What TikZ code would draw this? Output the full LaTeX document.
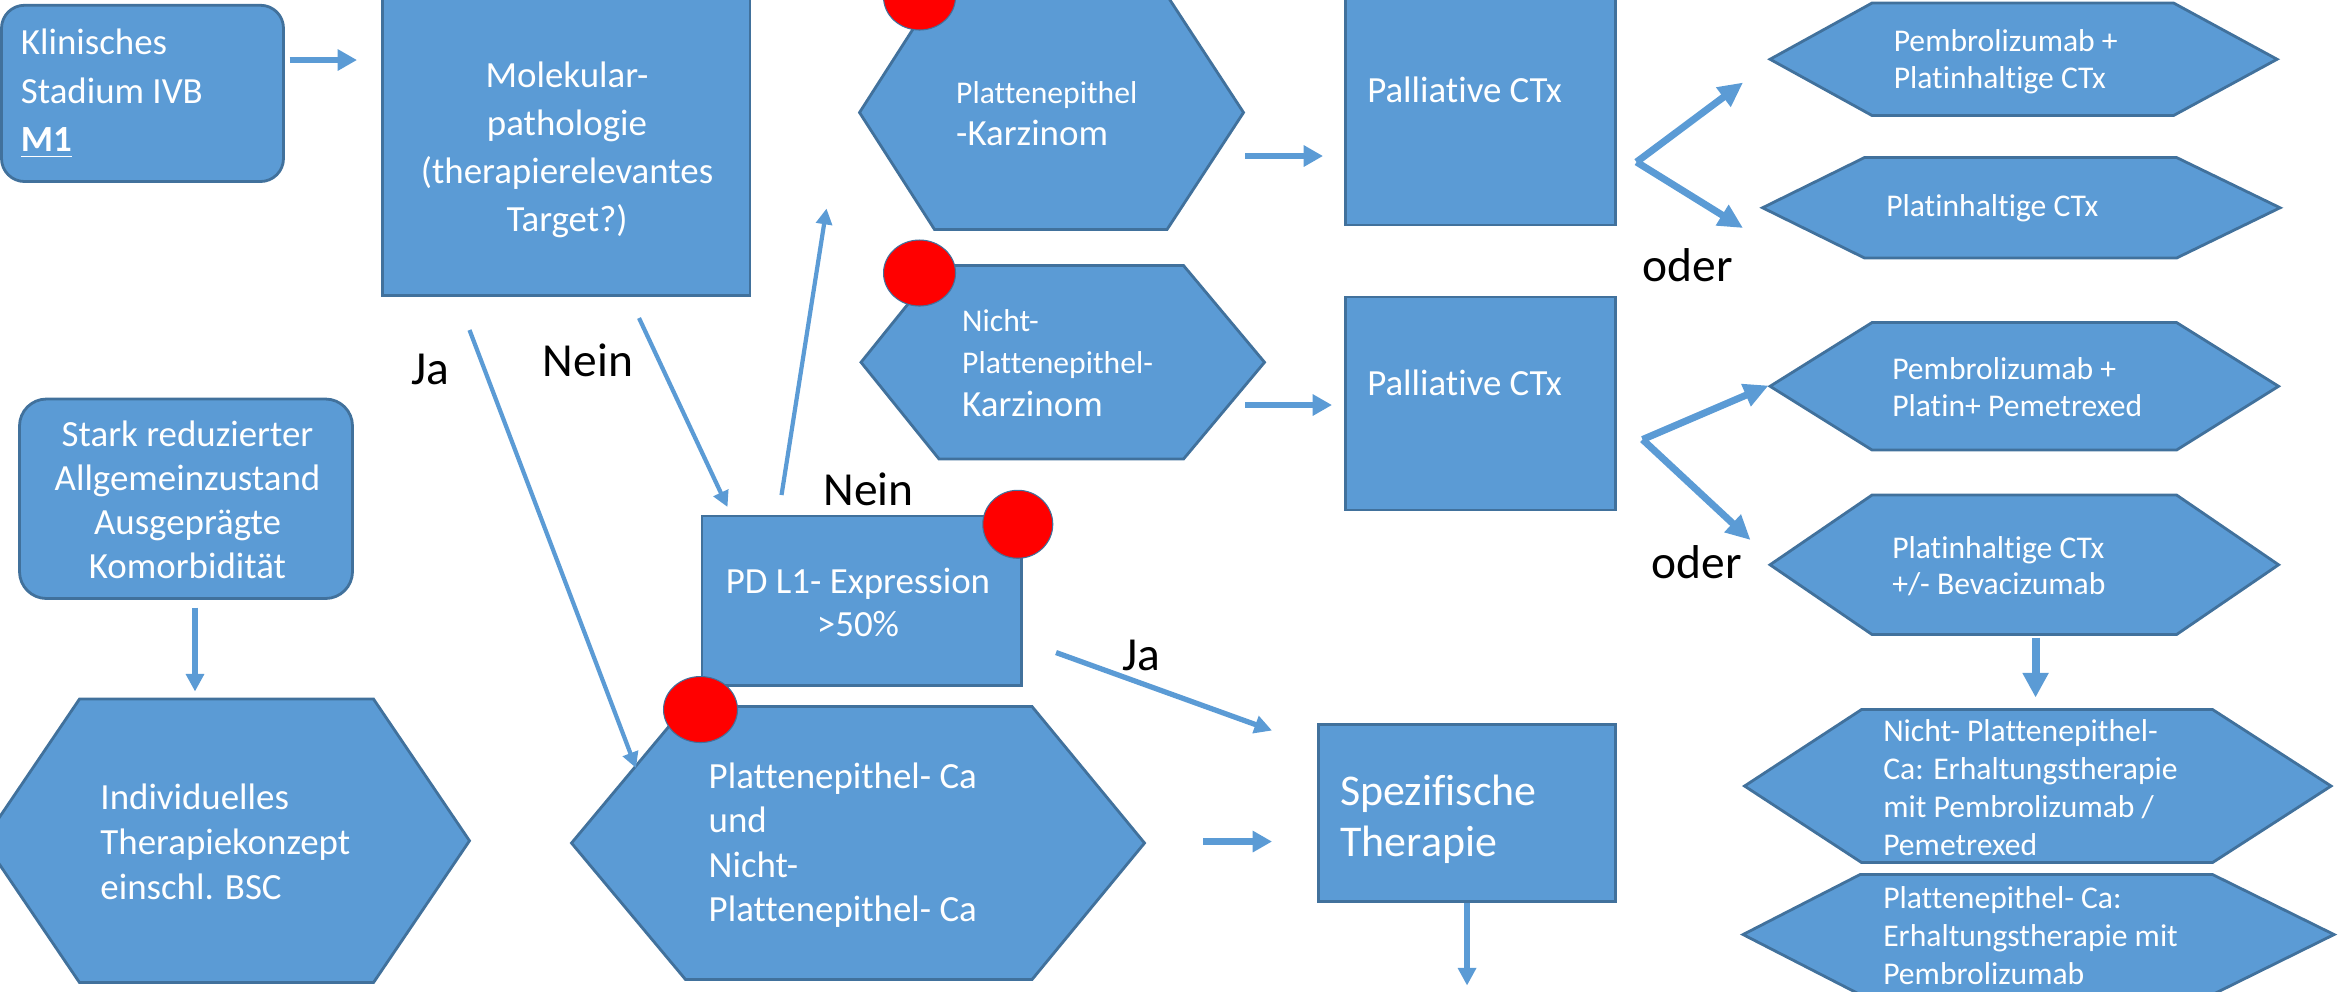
\documentclass[tikz,border=0pt]{standalone}
\usepackage{fontspec}
\setmainfont{Carlito}[Ligatures={NoCommon,NoContextual},Contextuals=NoAlternate]
\usetikzlibrary{arrows.meta,shapes.geometric}
\definecolor{fillblue}{HTML}{5B9BD5}
\definecolor{edgeblue}{HTML}{41719C}
\definecolor{arrblue}{HTML}{5B9BD5}
\newcommand{\hexshape}[6]{\draw[shp] (#1,{(#5+#6)/2}) -- (#2,#5) -- (#3,#5) -- (#4,{(#5+#6)/2}) -- (#3,#6) -- (#2,#6) -- cycle;}
\begin{document}
\begin{tikzpicture}[x=0.015cm,y=-0.015cm,
  shp/.style={fill=fillblue,draw=edgeblue,line width=0.8pt},
  dot/.style={fill=red,draw=edgeblue,line width=0.3pt},
  wt/.style={text=white,inner sep=0pt,font=\fontsize{10.5}{13.2}\selectfont},
  sm/.style={text=white,inner sep=0pt,align=left,anchor=west,font=\fontsize{9}{10.4}\selectfont},
  lbl/.style={text=black,inner sep=0pt,font=\fontsize{13.5}{16}\selectfont},
  con/.style={draw=arrblue,line width=1.2pt,-{Triangle[length=4.5pt,width=4.5pt]}},
  conmid/.style={draw=arrblue,line width=1.5pt,-{Triangle[length=5pt,width=5pt]}},
  conthick/.style={draw=arrblue,line width=1.9pt,-{Triangle[length=5.5pt,width=5.8pt]}},
  consplit/.style={draw=arrblue,line width=2pt,-{Triangle[length=7pt,width=6.5pt]}},
  conbig/.style={draw=arrblue,line width=2.3pt,-{Triangle[length=7pt,width=7pt]}}]
\useasboundingbox (0,0) rectangle (1567.3,660.7);
\clip (0,0) rectangle (1567.3,660.7);

% ---- shapes ----
\draw[shp,rounded corners=0.23cm] (1,3.5) rectangle (189,121);
\draw[shp] (255,-5) rectangle (500,197);
\hexshape{573}{623}{778}{829}{-3}{153}
\hexshape{574}{626}{789}{843}{177}{306}
\draw[shp] (897,-5) rectangle (1077,150);
\draw[shp] (897,198) rectangle (1077,340);
\hexshape{1180}{1248}{1449}{1518}{2}{77}
\hexshape{1175}{1243}{1451}{1520}{105}{172}
\hexshape{1180}{1248}{1451}{1519}{215}{300}
\hexshape{1180}{1248}{1451}{1519}{330}{423}
\hexshape{1163}{1241}{1475}{1554}{473}{575}
\hexshape{1162}{1240}{1475}{1556}{583}{663}
\draw[shp,rounded corners=0.27cm] (13,266) rectangle (235,399);
\hexshape{-11}{53}{249}{313}{466}{655}
\draw[shp] (468,344) rectangle (681,457);
\hexshape{381}{457}{688}{763}{471}{653}
\draw[shp] (879,483) rectangle (1077,601);

% ---- red dots ----
\fill[dot] (613,-2) ellipse [x radius=0.36cm, y radius=0.33cm];
\fill[dot] (613,182) ellipse [x radius=0.36cm, y radius=0.33cm];
\fill[dot] (678.5,349.5) ellipse [x radius=0.35cm, y radius=0.34cm];
\fill[dot] (467,473) ellipse [x radius=0.37cm, y radius=0.33cm];

% ---- texts ----
\node[wt,align=left,anchor=west,font=\fontsize{10.5}{13.8}\selectfont] (klin) at (13.5,62.5) {Klinisches\\Stadium IVB\\\textbf{\underline{M1}}};
\node[wt,align=center,font=\fontsize{10.5}{13.6}\selectfont] (mol) at (378,100) {Molekular-\\pathologie\\(therapierelevantes\\Target?)};
\node[wt,align=left,anchor=west,font=\fontsize{10.5}{11.9}\selectfont] (pk) at (637,76) {{\fontsize{9}{11.9}\selectfont Plattenepithel}\\-Karzinom};
\node[wt,align=left,anchor=west,font=\fontsize{10.5}{12.1}\selectfont] (npk) at (641,242) {{\fontsize{9}{12.1}\selectfont Nicht-}\\{\fontsize{9}{12.1}\selectfont Plattenepithel-}\\Karzinom};
\node[wt,anchor=west] (pal1) at (911,60) {Palliative CTx};
\node[wt,anchor=west] (pal2) at (911,255) {Palliative CTx};
\node[sm] (h1) at (1262,41) {Pembrolizumab +\\Platinhaltige CTx};
\node[sm] (h2) at (1257,139) {Platinhaltige CTx};
\node[sm] (h3) at (1261,258) {Pembrolizumab +\\Platin+ Pemetrexed};
\node[sm] (h4) at (1261,377.5) {Platinhaltige CTx\\+/- Bevacizumab};
\node[sm,font=\fontsize{9}{10.8}\selectfont] (h5) at (1255,525) {Nicht- Plattenepithel-\\Ca: Erhaltungstherapie\\mit Pembrolizumab /\\Pemetrexed};
\node[sm,font=\fontsize{9}{10.8}\selectfont] (h6) at (1255,623.5) {Plattenepithel- Ca:\\Erhaltungstherapie mit\\Pembrolizumab};
\node[wt,align=center,font=\fontsize{10.5}{12.5}\selectfont] (stark) at (125,333) {Stark reduzierter\\Allgemeinzustand\\Ausgeprägte\\Komorbidität};
\node[wt,align=left,anchor=west,font=\fontsize{10.5}{12.75}\selectfont] (indiv) at (66.5,561) {Individuelles\\Therapiekonzept\\einschl. BSC};
\node[wt,align=left,anchor=west,font=\fontsize{10.5}{12.6}\selectfont] (peca) at (472,563.5) {Plattenepithel- Ca\\und\\Nicht-\\Plattenepithel- Ca};
\node[wt,align=center,font=\fontsize{10.5}{12.3}\selectfont] (pdl) at (572,401.5) {PD L1- Expression\\>50\%};
\node[wt,align=left,anchor=west,font=\fontsize{12.5}{14.5}\selectfont] (spez) at (893,546) {Spezifische\\Therapie};

\node[lbl] (ja1) at (287,246) {Ja};
\node[lbl] (nein1) at (392,240) {Nein};
\node[lbl] (nein2) at (579,326) {Nein};
\node[lbl] (ja2) at (761,437) {Ja};
\node[lbl] (oder1) at (1125,177) {oder};
\node[lbl] (oder2) at (1131,375) {oder};

% ---- connector end points ----
\coordinate (a1s) at (193,40);   \coordinate (a1e) at (238,40);
\coordinate (jas) at (313,220);  \coordinate (jae) at (424,512);
\coordinate (nes) at (426,212);  \coordinate (nee) at (485,338);
\coordinate (ups) at (521,330);  \coordinate (upe) at (551,139);
\coordinate (p1s) at (830,104);  \coordinate (p1e) at (882,104);
\coordinate (p2s) at (830,270);  \coordinate (p2e) at (888,270);
\coordinate (v1) at (1091,108);  \coordinate (v1a) at (1162,55);  \coordinate (v1b) at (1162,152);
\coordinate (v2) at (1095,293);  \coordinate (v2a) at (1179,257); \coordinate (v2b) at (1167,360);
\coordinate (h4s) at (1357,425); \coordinate (h4e) at (1357,465);
\coordinate (sts) at (130,405);  \coordinate (ste) at (130,461);
\coordinate (pjs) at (704,435);  \coordinate (pje) at (848,487);
\coordinate (pcs) at (802,561);  \coordinate (pce) at (848,561);
\coordinate (sds) at (978,602);  \coordinate (sde) at (978,657);

% ---- connectors ----
\draw[conthick] (a1s) -- (a1e);
\draw[con] (jas) -- (jae);
\draw[con] (nes) -- (nee);
\draw[con] (ups) -- (upe);
\draw[conthick] (p1s) -- (p1e);
\draw[conthick] (p2s) -- (p2e);
\draw[consplit] (v1) -- (v1a);
\draw[consplit] (v1) -- (v1b);
\draw[consplit] (v2) -- (v2a);
\draw[consplit] (v2) -- (v2b);
\draw[conbig] (h4s) -- (h4e);
\draw[conmid] (sts) -- (ste);
\draw[conmid] (pjs) -- (pje);
\draw[conthick] (pcs) -- (pce);
\draw[conmid] (sds) -- (sde);
\end{tikzpicture}
\end{document}
